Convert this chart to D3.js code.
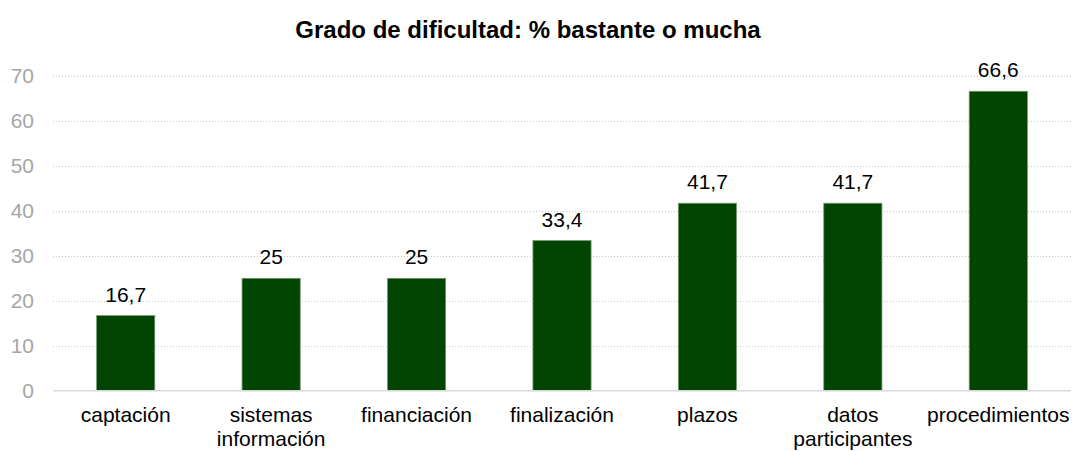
<html>
<head>
  <meta charset="utf-8" />
  <title>Grado de dificultad</title>
  <script src="https://d3js.org/d3.v7.min.js"></script>
</head>
<style>
  body { margin: 0; background: #fff; }
  svg { font-family: "Liberation Sans", Arial, sans-serif; }
</style>
<body>
<svg class="main" width="1074" height="451"></svg>
<script>

const categories = [
  ["captación"],
  ["sistemas", "información"],
  ["financiación"],
  ["finalización"],
  ["plazos"],
  ["datos", "participantes"],
  ["procedimientos"]
]
const values = [16.7, 25, 25, 33.4, 41.7, 41.7, 66.6]
const yTicks = [0, 10, 20, 30, 40, 50, 60, 70]
const title = "Grado de dificultad: % bastante o mucha"

const data = categories.map((c, i) => ({ key: i, lines: c, value: values[i] }))

const svg = d3.select("svg")
const plotLeft = 53, plotRight = 1071, plotTop = 76, plotBottom = 390.7

const x = d3.scaleBand()
  .domain(data.map(d => d.key))
  .range([plotLeft, plotRight])
  .paddingInner(0.6)
  .paddingOuter(0.3)

const y = d3.scaleLinear()
  .domain([0, 70])
  .range([plotBottom, plotTop])

// gridlines (snapped to pixel centres so the dots stay crisp)
svg.append("g")
  .selectAll("line")
  .data(yTicks.filter(t => t > 0))
  .enter()
  .append("line")
  .attr("x1", plotLeft)
  .attr("x2", plotRight)
  .attr("y1", d => Math.round(y(d)) + 0.5)
  .attr("y2", d => Math.round(y(d)) + 0.5)
  .style("stroke", "#c8c8c8")
  .style("stroke-width", 1)
  .style("stroke-dasharray", "1,2")

// y tick labels
svg.append("g")
  .selectAll("text")
  .data(yTicks)
  .enter()
  .append("text")
  .attr("x", 34)
  .attr("y", d => y(d))
  .attr("dy", "0.35em")
  .attr("text-anchor", "end")
  .style("fill", "#a6a6a6")
  .style("font-size", "21px")
  .text(d => d)

// bars
svg.append("g")
  .selectAll("rect")
  .data(data)
  .enter()
  .append("rect")
  .attr("x", d => x(d.key))
  .attr("width", x.bandwidth())
  .attr("y", d => y(d.value))
  .attr("height", d => y(0) - y(d.value))
  .style("fill", "#024503")
  .style("stroke", "#6f9a6f")
  .style("stroke-width", 0.75)

// axis line
svg.append("line")
  .attr("x1", plotLeft)
  .attr("x2", plotRight)
  .attr("y1", y(0))
  .attr("y2", y(0))
  .style("stroke", "#d9d9d9")
  .style("stroke-width", 1.5)

// value labels
svg.append("g")
  .selectAll("text")
  .data(data)
  .enter()
  .append("text")
  .attr("x", d => x(d.key) + x.bandwidth() / 2)
  .attr("y", d => y(d.value) - 14)
  .attr("text-anchor", "middle")
  .style("fill", "#000")
  .style("font-size", "21px")
  .text(d => String(d.value).replace(".", ","))

// category labels
const cat = svg.append("g")
  .selectAll("text")
  .data(data)
  .enter()
  .append("text")
  .attr("x", d => x(d.key) + x.bandwidth() / 2)
  .attr("y", 422)
  .attr("text-anchor", "middle")
  .style("fill", "#000")
  .style("font-size", "21px")

cat.selectAll("tspan")
  .data(d => d.lines.map(l => ({ l, cx: x(d.key) + x.bandwidth() / 2 })))
  .enter()
  .append("tspan")
  .attr("x", d => d.cx)
  .attr("dy", (d, i) => i === 0 ? 0 : 24)
  .text(d => d.l)

// title
svg.append("text")
  .attr("x", 528)
  .attr("y", 38)
  .attr("text-anchor", "middle")
  .style("font-weight", "bold")
  .style("font-size", "24px")
  .style("fill", "#000")
  .text(title)

</script>
</body>
</html>
